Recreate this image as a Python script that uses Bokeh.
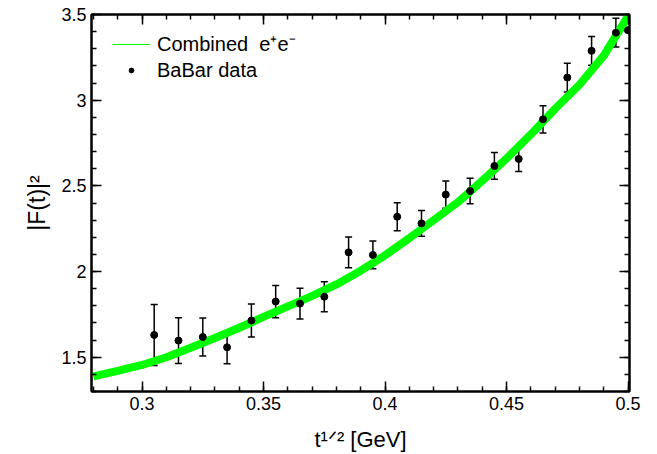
from bokeh.plotting import figure
from bokeh.models import (Range1d, LinearAxis, SingleIntervalTicker, CustomJSTickFormatter,
                          ColumnDataSource, Whisker, TeeHead, Legend, LegendItem)
from bokeh.embed import file_html
from bokeh.resources import INLINE

# ---- data ----
band_x = [0.28, 0.29, 0.30, 0.31, 0.32, 0.33, 0.34, 0.35, 0.36, 0.37, 0.38,
          0.39, 0.40, 0.41, 0.42, 0.43, 0.44, 0.45, 0.46, 0.47, 0.48, 0.49, 0.50]
band_y = [1.388, 1.420, 1.455, 1.500, 1.555, 1.612, 1.672, 1.735, 1.797, 1.858, 1.925,
          2.005, 2.095, 2.195, 2.300, 2.405, 2.530, 2.660, 2.800, 2.950, 3.090, 3.260, 3.490]

data_x = [0.305, 0.315, 0.325, 0.335, 0.345, 0.355, 0.365, 0.375, 0.385, 0.395,
          0.405, 0.415, 0.425, 0.435, 0.445, 0.455, 0.465, 0.475, 0.485, 0.495, 0.500]
data_y = [1.630, 1.597, 1.618, 1.558, 1.714, 1.825, 1.813, 1.853, 2.112, 2.097,
          2.320, 2.281, 2.449, 2.470, 2.616, 2.657, 2.888, 3.132, 3.288, 3.394, 3.408]
data_err = [0.178, 0.134, 0.111, 0.096, 0.096, 0.094, 0.090, 0.088, 0.090, 0.081,
            0.082, 0.075, 0.080, 0.075, 0.078, 0.073, 0.080, 0.084, 0.084, 0.084, 0.0]

x_ticks_step = 0.05
y_ticks_step = 0.5
legend_labels = ["Combined  e\u207ae\u207b", "BaBar data"]
x_title = "t\u00b9\u141f\u00b2 [GeV]"
y_title = "|F(t)|\u00b2"

FONT = "Liberation Sans"
GREEN = "#00ff00"

p = figure(width=657, height=454, output_backend="svg", toolbar_location=None,
           x_range=Range1d(0.2792, 0.5006), y_range=Range1d(1.3, 3.5),
           min_border_left=91, min_border_right=28, min_border_top=14, min_border_bottom=63)
p.xgrid.visible = False
p.ygrid.visible = False
p.outline_line_color = "black"
p.outline_line_width = 2
p.background_fill_color = "white"
p.border_fill_color = "white"

fmt = CustomJSTickFormatter(code="return String(parseFloat(tick.toFixed(3)));")
blank = CustomJSTickFormatter(code="return '';")

def style_axis(ax, ticker, show_labels):
    ax.ticker = ticker
    ax.major_tick_in = 10
    ax.major_tick_out = 0
    ax.minor_tick_in = 5
    ax.minor_tick_out = 0
    ax.axis_line_width = 2
    ax.major_tick_line_width = 1.5
    ax.minor_tick_line_width = 1.5
    ax.axis_line_color = "black"
    ax.major_tick_line_color = "black"
    ax.minor_tick_line_color = "black"
    if show_labels:
        ax.formatter = fmt
        ax.major_label_text_font = FONT
        ax.major_label_text_font_size = "18px"
        ax.major_label_text_color = "black"
        ax.axis_label_text_font = FONT
        ax.axis_label_text_font_style = "normal"
        ax.axis_label_text_color = "black"
    else:
        ax.formatter = blank
        ax.major_label_text_font_size = "0px"
        ax.major_label_standoff = 0

style_axis(p.xaxis[0], SingleIntervalTicker(interval=x_ticks_step, num_minor_ticks=5), True)
style_axis(p.yaxis[0], SingleIntervalTicker(interval=y_ticks_step, num_minor_ticks=5), True)
p.xaxis[0].major_label_standoff = 5
p.yaxis[0].major_label_standoff = 5
p.xaxis[0].axis_label = x_title
p.xaxis[0].axis_label_text_font_size = "22px"
p.xaxis[0].axis_label_standoff = 14
p.yaxis[0].axis_label = y_title
p.yaxis[0].axis_label_text_font_size = "23px"
p.yaxis[0].axis_label_standoff = 8

top_ax = LinearAxis()
right_ax = LinearAxis()
style_axis(top_ax, SingleIntervalTicker(interval=x_ticks_step, num_minor_ticks=5), False)
style_axis(right_ax, SingleIntervalTicker(interval=y_ticks_step, num_minor_ticks=5), False)
p.add_layout(top_ax, "above")
p.add_layout(right_ax, "right")

# band (thin copy underneath serves as legend glyph)
legend_line = p.line(band_x, band_y, line_width=1.2, line_color=GREEN)
band = p.line(band_x, band_y, line_width=8, line_color=GREEN)

# data with error bars
wx = [x for x, e in zip(data_x, data_err) if e > 0]
wy = [y for y, e in zip(data_y, data_err) if e > 0]
we = [e for e in data_err if e > 0]
wsrc = ColumnDataSource(dict(x=wx, lo=[y - e for y, e in zip(wy, we)],
                             hi=[y + e for y, e in zip(wy, we)]))
wh = Whisker(source=wsrc, base="x", lower="lo", upper="hi", line_color="black", line_width=1.5,
             upper_head=TeeHead(size=7, line_color="black", line_width=1.5),
             lower_head=TeeHead(size=7, line_color="black", line_width=1.5))
p.add_layout(wh)
pts = p.scatter(data_x, data_y, size=7, marker="circle", fill_color="black", line_color="black")

legend = Legend(items=[LegendItem(label=legend_labels[0], renderers=[legend_line]),
                       LegendItem(label=legend_labels[1], renderers=[pts])],
                location=(21, 309), border_line_color=None, background_fill_alpha=0,
                label_text_font=FONT, label_text_font_size="20px", label_text_color="black",
                glyph_width=38, glyph_height=12, label_standoff=7, padding=0, margin=0,
                spacing=1, label_height=24)
p.add_layout(legend, "center")

open("out.html", "w").write(file_html(p, INLINE))
